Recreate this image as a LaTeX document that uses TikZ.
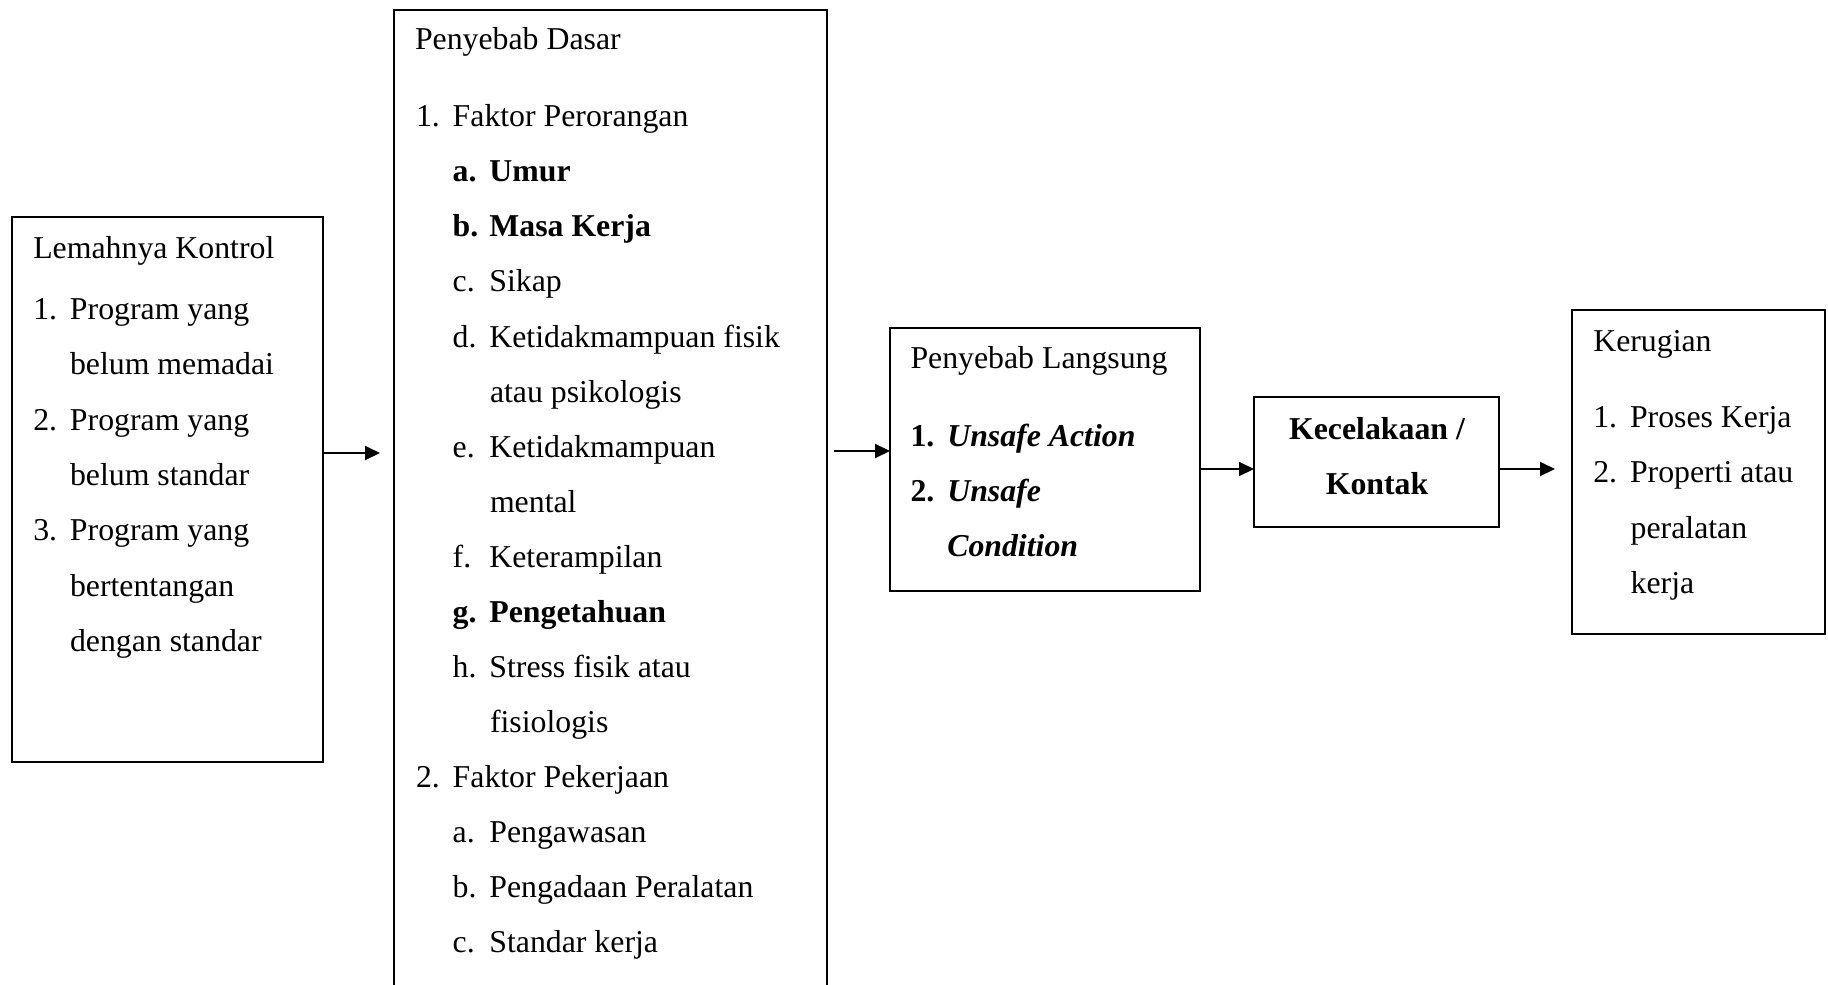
\documentclass[tikz,border=0pt]{standalone}
\usepackage{fontspec}
\setmainfont{Liberation Serif}
\usetikzlibrary{arrows.meta}
\newcommand\itm[2]{\makebox[18.35pt][l]{#1}#2}
\newcommand\itmb[2]{\makebox[18.4pt][l]{#1}#2}
\begin{document}
\begin{tikzpicture}[x=0.5pt,y=-0.5pt,
  box/.style={draw, line width=1pt, anchor=north west, inner sep=0pt, outer sep=0pt},
  txt/.style={anchor=base west, inner sep=0pt, outer sep=0pt, font=\fontsize{15.9pt}{19pt}\selectfont},
  ctxt/.style={txt, anchor=base},
  arr/.style={line width=1pt, -{Triangle[length=7.5pt,width=7pt]}}]
\useasboundingbox (0,0) rectangle (1828,985);

% boxes
\node[box, minimum width=155.5pt, minimum height=272.5pt] (kontrol) at (12,217) {};
\node[box, minimum width=216.5pt, minimum height=495pt] (dasar) at (394,10) {};
\node[box, minimum width=155pt, minimum height=131.5pt] (langsung) at (890,328) {};
\node[box, minimum width=122.5pt, minimum height=65pt] (kecelakaan) at (1254,397) {};
\node[box, minimum width=126.5pt, minimum height=162pt] (kerugian) at (1572,310) {};

% Lemahnya Kontrol
\node[txt] (k0) at (33.3,258) {Lemahnya Kontrol};
\node[txt] (k1) at (33.3,319.6) {\itm{1.}{Program yang}};
\node[txt] (k2) at (70,374.9) {belum memadai};
\node[txt] (k3) at (33.3,430.2) {\itm{2.}{Program yang}};
\node[txt] (k4) at (70,485.5) {belum standar};
\node[txt] (k5) at (33.3,540.8) {\itm{3.}{Program yang}};
\node[txt] (k6) at (70,596.1) {bertentangan};
\node[txt] (k7) at (70,651.4) {dengan standar};

% Penyebab Dasar
\node[txt] (d0) at (415,49.3) {Penyebab Dasar};
\node[txt] (d1) at (416,126.7) {\itm{1.}{Faktor Perorangan}};
\node[txt] (d2) at (452.7,181.8) {\bfseries\itm{a.}{Umur}};
\node[txt] (d3) at (452.7,236.8) {\bfseries\itm{b.}{Masa Kerja}};
\node[txt] (d4) at (452.7,291.9) {\itm{c.}{Sikap}};
\node[txt] (d5) at (452.7,347.0) {\itm{d.}{Ketidakmampuan fisik}};
\node[txt] (d6) at (490,402.1) {atau psikologis};
\node[txt] (d7) at (452.7,457.1) {\itm{e.}{Ketidakmampuan}};
\node[txt] (d8) at (490,512.2) {mental};
\node[txt] (d9) at (452.7,567.3) {\itm{f.}{Keterampilan}};
\node[txt] (d10) at (452.7,622.3) {\bfseries\itm{g.}{Pengetahuan}};
\node[txt] (d11) at (452.7,677.4) {\itm{h.}{Stress fisik atau}};
\node[txt] (d12) at (490,732.5) {fisiologis};
\node[txt] (d13) at (416,787.5) {\itm{2.}{Faktor Pekerjaan}};
\node[txt] (d14) at (452.7,842.6) {\itm{a.}{Pengawasan}};
\node[txt] (d15) at (452.7,897.7) {\itm{b.}{Pengadaan Peralatan}};
\node[txt] (d16) at (452.7,952.7) {\itm{c.}{Standar kerja}};

% Penyebab Langsung
\node[txt] (l0) at (910.5,368.5) {Penyebab Langsung};
\node[txt] (l1) at (910.5,446) {\bfseries\itmb{1.}{\itshape Unsafe Action}};
\node[txt] (l2) at (910.5,501) {\bfseries\itmb{2.}{\itshape Unsafe}};
\node[txt] (l3) at (947.3,556) {\bfseries\itshape Condition};

% Kecelakaan
\node[ctxt] (c1) at (1377,439.5) {\bfseries Kecelakaan /};
\node[ctxt] (c2) at (1377,494.5) {\bfseries Kontak};

% Kerugian
\node[txt] (g0) at (1593.3,351.7) {Kerugian};
\node[txt] (g1) at (1593.3,427.6) {\itm{1.}{Proses Kerja}};
\node[txt] (g2) at (1593.3,482.8) {\itm{2.}{Properti atau}};
\node[txt] (g3) at (1630.7,538.0) {peralatan};
\node[txt] (g4) at (1630.7,593.2) {kerja};

% connectors
\draw[arr, shorten >=7pt] (kontrol.east |- 0,453) -- (dasar.west |- 0,453);
\draw[arr, shorten <=3.5pt] (dasar.east |- 0,451) -- (langsung.west |- 0,451);
\draw[arr] (langsung.east |- 0,469) -- (kecelakaan.west |- 0,469);
\draw[arr, shorten >=8.5pt] (kecelakaan.east |- 0,469) -- (kerugian.west |- 0,469);
\end{tikzpicture}
\end{document}
